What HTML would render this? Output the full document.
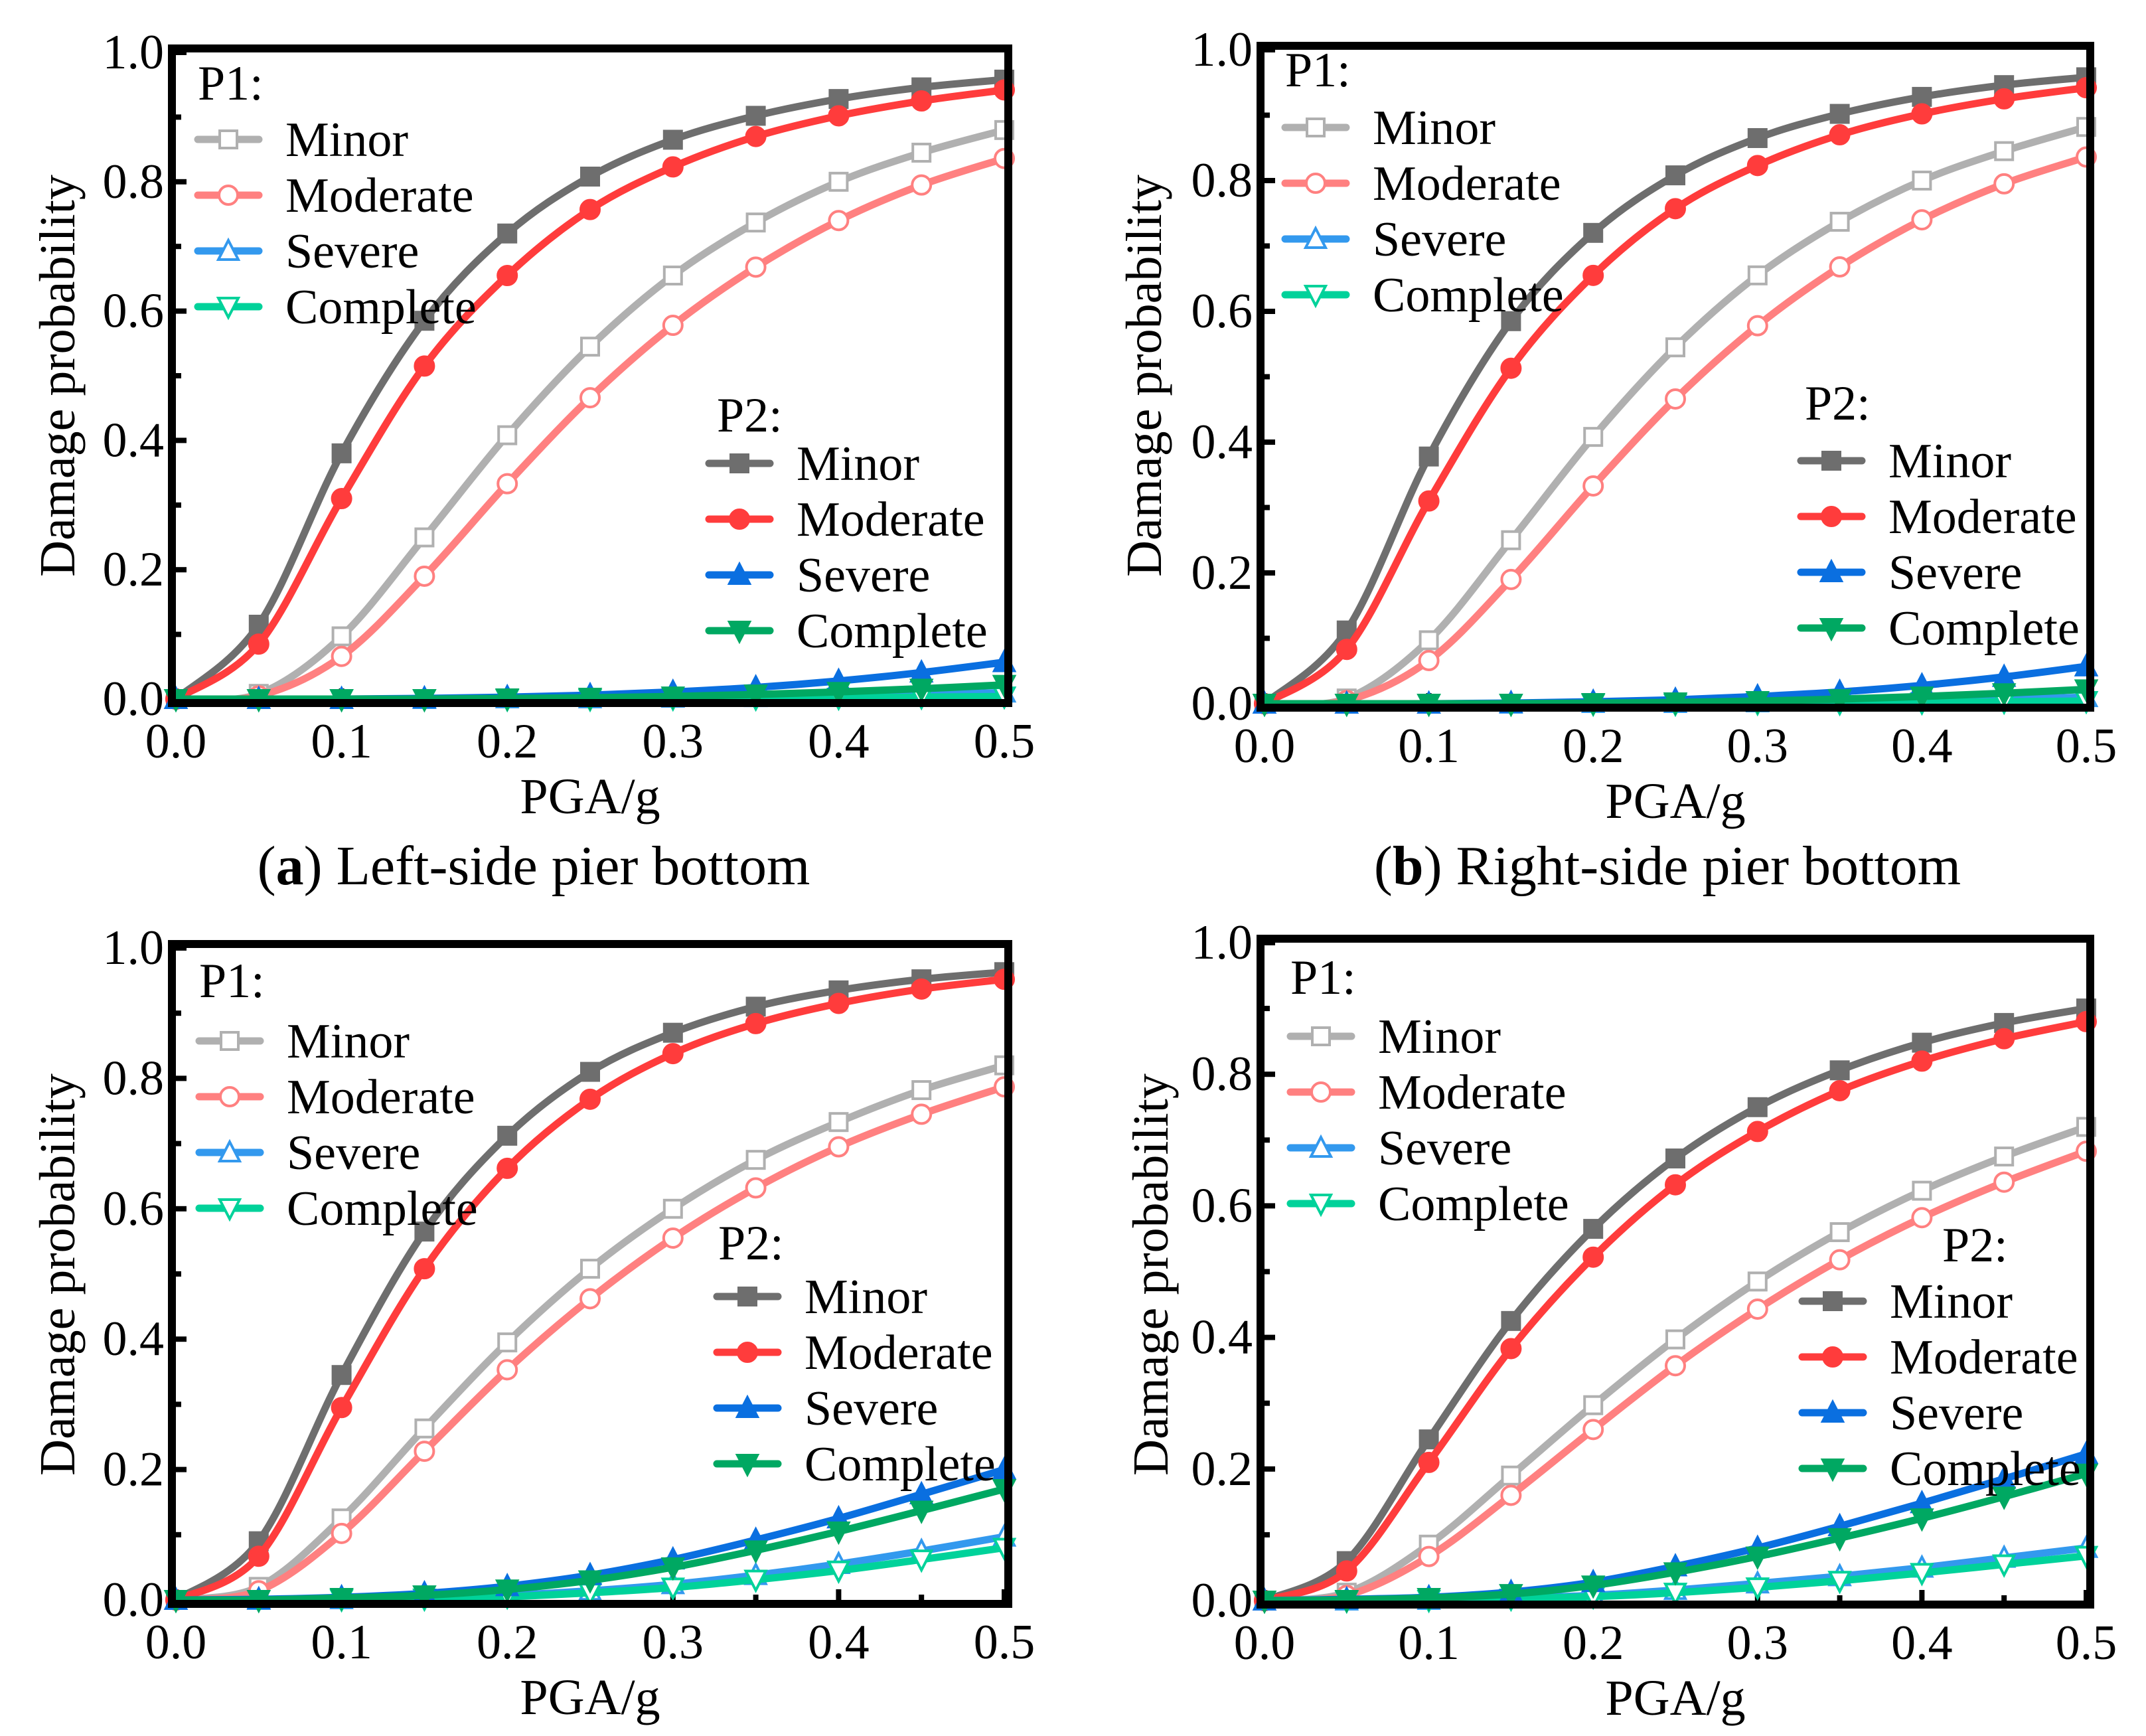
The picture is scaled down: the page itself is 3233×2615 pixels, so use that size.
<!DOCTYPE html>
<html><head><meta charset="utf-8">
<style>
html,body{margin:0;padding:0;background:#fff;}
svg{display:block;font-family:"Liberation Serif",serif;}
</style></head>
<body>
<svg id="fig" xmlns="http://www.w3.org/2000/svg" width="3233" height="2615" viewBox="0 0 3233 2615"></svg>
<script>
const xVals=[0,0.05,0.1,0.15,0.2,0.25,0.3,0.35,0.4,0.45,0.5];
const xTicks=["0.0","0.1","0.2","0.3","0.4","0.5"];
const yTicks=["0.0","0.2","0.4","0.6","0.8","1.0"];
const stateNames=["Minor","Moderate","Severe","Complete"];
const captions=["(a) Left-side pier bottom","(b) Right-side pier bottom"];
// panel a
const aP1Minor=[0,0.008,0.097,0.25,0.408,0.545,0.655,0.737,0.8,0.845,0.88];
const aP1Moderate=[0,0.005,0.066,0.19,0.333,0.466,0.578,0.668,0.74,0.795,0.836];
const aP1Severe=[0,0,0,0,0.001,0.001,0.002,0.003,0.005,0.007,0.01];
const aP1Complete=[0,0,0,0,0,0,0.001,0.001,0.002,0.003,0.004];
const aP2Minor=[0,0.115,0.38,0.585,0.72,0.808,0.865,0.902,0.928,0.946,0.958];
const aP2Moderate=[0,0.085,0.31,0.515,0.655,0.757,0.823,0.87,0.902,0.925,0.942];
const aP2Severe=[0,0,0,0.001,0.003,0.006,0.011,0.018,0.028,0.041,0.057];
const aP2Complete=[0,0,0,0,0.001,0.002,0.004,0.007,0.011,0.016,0.022];
// panel b
const bP1Minor=[0,0.008,0.097,0.25,0.408,0.545,0.655,0.737,0.8,0.845,0.882];
const bP1Moderate=[0,0.005,0.066,0.19,0.333,0.466,0.578,0.668,0.74,0.795,0.836];
const bP1Severe=[0,0,0,0,0.001,0.001,0.002,0.003,0.005,0.007,0.01];
const bP1Complete=[0,0,0,0,0,0,0.001,0.001,0.002,0.003,0.004];
const bP2Minor=[0,0.112,0.378,0.585,0.72,0.808,0.865,0.902,0.928,0.946,0.958];
const bP2Moderate=[0,0.083,0.31,0.513,0.655,0.757,0.823,0.87,0.902,0.925,0.942];
const bP2Severe=[0,0,0,0.001,0.003,0.006,0.011,0.018,0.028,0.041,0.057];
const bP2Complete=[0,0,0,0,0.001,0.002,0.004,0.007,0.011,0.016,0.022];
// panel c
const cP1Minor=[0,0.02,0.125,0.263,0.395,0.508,0.6,0.675,0.733,0.782,0.82];
const cP1Moderate=[0,0.014,0.102,0.228,0.353,0.462,0.555,0.632,0.695,0.745,0.787];
const cP1Severe=[0,0,0.001,0.003,0.007,0.014,0.024,0.038,0.055,0.075,0.097];
const cP1Complete=[0,0,0.001,0.002,0.005,0.011,0.019,0.031,0.045,0.062,0.08];
const cP2Minor=[0,0.09,0.345,0.565,0.712,0.81,0.87,0.91,0.935,0.952,0.963];
const cP2Moderate=[0,0.067,0.295,0.508,0.662,0.768,0.838,0.884,0.915,0.937,0.952];
const cP2Severe=[0,0.001,0.004,0.01,0.021,0.038,0.062,0.092,0.125,0.162,0.2];
const cP2Complete=[0,0,0.003,0.007,0.016,0.03,0.05,0.076,0.105,0.137,0.17];
// panel d
const dP1Minor=[0,0.012,0.085,0.19,0.297,0.397,0.485,0.56,0.623,0.675,0.72];
const dP1Moderate=[0,0.008,0.067,0.16,0.26,0.357,0.443,0.518,0.582,0.636,0.683];
const dP1Severe=[0,0,0.001,0.004,0.008,0.016,0.026,0.037,0.05,0.065,0.08];
const dP1Complete=[0,0,0.001,0.003,0.006,0.012,0.02,0.03,0.042,0.055,0.068];
const dP2Minor=[0,0.06,0.245,0.425,0.565,0.672,0.75,0.806,0.848,0.878,0.9];
const dP2Moderate=[0,0.045,0.21,0.383,0.522,0.632,0.713,0.775,0.82,0.854,0.88];
const dP2Severe=[0,0.002,0.005,0.013,0.028,0.052,0.08,0.113,0.148,0.185,0.223];
const dP2Complete=[0,0.001,0.004,0.01,0.023,0.043,0.067,0.095,0.125,0.158,0.193];

const NS="http://www.w3.org/2000/svg";
const svg=document.getElementById('fig');
function mk(tag,attrs,parent){const e=document.createElementNS(NS,tag);for(const k in attrs)e.setAttribute(k,attrs[k]);(parent||svg).appendChild(e);return e;}

const p1Colors=["#b0b0b0","#ff8080","#3399ee","#00d29a"];
const p2Colors=["#6e6e6e","#ff3c3c","#0a6fe0","#00a862"];
const markers=["square","circle","up","down"];

const panels=[
 {id:"a",L:265,T:79,R:1513,B:1053,p1:[aP1Minor,aP1Moderate,aP1Severe,aP1Complete],p2:[aP2Minor,aP2Moderate,aP2Severe,aP2Complete],
  p1Leg:{tx:298,x:298,y:150,first:210},p2Leg:{tx:1080,x:1068,y:650,first:698},yt:{x:87,y:566}},
 {id:"b",L:1905,T:75,R:3143,B:1060,p1:[bP1Minor,bP1Moderate,bP1Severe,bP1Complete],p2:[bP2Minor,bP2Moderate,bP2Severe,bP2Complete],
  p1Leg:{tx:1936,x:1936,y:130,first:192},p2Leg:{tx:2719,x:2713,y:632,first:694},yt:{x:1724,y:566}},
 {id:"c",L:265,T:1428,R:1513,B:2410,p1:[cP1Minor,cP1Moderate,cP1Severe,cP1Complete],p2:[cP2Minor,cP2Moderate,cP2Severe,cP2Complete],
  p1Leg:{tx:300,x:300,y:1502,first:1568},p2Leg:{tx:1082,x:1080,y:1897,first:1953},yt:{x:87,y:1920}},
 {id:"d",L:1905,T:1420,R:3143,B:2411,p1:[dP1Minor,dP1Moderate,dP1Severe,dP1Complete],p2:[dP2Minor,dP2Moderate,dP2Severe,dP2Complete],
  p1Leg:{tx:1944,x:1944,y:1497,first:1561},p2Leg:{tx:2926,x:2715,y:1900,first:1960},yt:{x:1734,y:1920}}
];

function drawMarker(g,type,cx,cy,color,filled){
  const s=13;let e;
  const fill=filled?color:"#fff";
  if(type==="square")e=mk('rect',{x:cx-s,y:cy-s,width:2*s,height:2*s,fill:fill,stroke:color,'stroke-width':4},g);
  else if(type==="circle")e=mk('circle',{cx:cx,cy:cy,r:s+1,fill:fill,stroke:color,'stroke-width':4},g);
  else if(type==="up")e=mk('polygon',{points:`${cx},${cy-s-3} ${cx+s+2},${cy+s} ${cx-s-2},${cy+s}`,fill:fill,stroke:color,'stroke-width':4},g);
  else e=mk('polygon',{points:`${cx},${cy+s+3} ${cx+s+2},${cy-s} ${cx-s-2},${cy-s}`,fill:fill,stroke:color,'stroke-width':4},g);
  return e;
}
function smoothPath(pts){
  let d=`M${pts[0][0]},${pts[0][1]}`;
  for(let i=0;i<pts.length-1;i++){
    const p0=pts[i-1]||pts[i],p1=pts[i],p2=pts[i+1],p3=pts[i+2]||p2;
    const c1=[p1[0]+(p2[0]-p0[0])/6,p1[1]+(p2[1]-p0[1])/6];
    const c2=[p2[0]-(p3[0]-p1[0])/6,p2[1]-(p3[1]-p1[1])/6];
    d+=` C${c1[0]},${c1[1]} ${c2[0]},${c2[1]} ${p2[0]},${p2[1]}`;
  }
  return d;
}

panels.forEach(p=>{
  const g=mk('g',{});
  
  
  const xs=v=>p.L+(v/0.5)*(p.R-p.L);
  const ys=v=>p.B-v*(p.B-p.T);
  for(let i=0;i<=10;i++){
    const v=i*0.1,y=ys(v),len=(i%2===0)?16:8;
    const t=mk('line',{x1:p.L,x2:p.L+len,y1:y,y2:y,stroke:"#000",'stroke-width':8},g);
    
    
  }
  for(let i=0;i<=10;i++){
    const v=i*0.05,x=xs(v),len=(i%2===0)?16:8;
    const t=mk('line',{x1:x,x2:x,y1:p.B,y2:p.B-len,stroke:"#000",'stroke-width':8},g);
    
    
  }
  [[p.p1,p1Colors,false,'p1'],[p.p2,p2Colors,true,'p2']].forEach(([set,cols,filled,tag])=>{
    set.forEach((arr,k)=>{
      const sg=mk('g',{},g);
      
      
      const pts=arr.map((v,i)=>[xs(xVals[i]),ys(v)]);
      const path=mk('path',{d:smoothPath(pts),fill:"none",stroke:cols[k],'stroke-width':11,'stroke-linejoin':'round'},sg);
      
      
      pts.forEach(pt=>{
        const m=drawMarker(sg,markers[k],pt[0],pt[1],cols[k],filled);
        
        
      });
    });
  });
  const fr=mk('rect',{x:p.L-6,y:p.T-6,width:p.R-p.L+12,height:p.B-p.T+12,fill:"none",stroke:"#000",'stroke-width':12},g);
  
  
  yTicks.forEach((lab,i)=>{
    const t=mk('text',{x:p.L-18,y:ys(i*0.2)+24,'font-size':74,'text-anchor':'end'},g);
    t.textContent=lab;
    
    
  });
  xTicks.forEach((lab,i)=>{
    const t=mk('text',{x:xs(i*0.1),y:p.B+88,'font-size':74,'text-anchor':'middle'},g);
    t.textContent=lab;
    
    
  });
  const xt=mk('text',{x:(p.L+p.R)/2,y:p.B+172,'font-size':76,'text-anchor':'middle'},g);
  xt.textContent="PGA/g";
  
  
  const yt=mk('text',{x:p.yt.x,y:p.yt.y,'font-size':76,'text-anchor':'middle',transform:`rotate(-90 ${p.yt.x} ${p.yt.y})`,'dominant-baseline':'central'},g);
  yt.textContent="Damage probability";
  
  
  [[p.p1Leg,p1Colors,false,"P1:"],[p.p2Leg,p2Colors,true,"P2:"]].forEach(([lg,cols,filled,title])=>{
    const lgG=mk('g',{},g);
    
    
    const tt=mk('text',{x:lg.tx,y:lg.y,'font-size':74},lgG);
    tt.textContent=title;
    
    
    stateNames.forEach((nm,k)=>{
      const cy=lg.first+k*84;
      const eg=mk('g',{},lgG);
      
      
      mk('line',{x1:lg.x,x2:lg.x+92,y1:cy,y2:cy,stroke:cols[k],'stroke-width':11,'stroke-linecap':'round'},eg);
      drawMarker(eg,markers[k],lg.x+46,cy,cols[k],filled);
      const tx=mk('text',{x:lg.x+132,y:cy+25,'font-size':74},eg);
      tx.textContent=nm;
    });
  });
});
captions.forEach((c,i)=>{
  const t=mk('text',{x:i===0?804:2512,y:1332,'font-size':84,'text-anchor':'middle'});
  const m=c.match(/^\((\w)\)(.*)$/);
  const s1=mk('tspan',{},t);s1.textContent="(";
  const s2=mk('tspan',{'font-weight':'bold'},t);s2.textContent=m[1];
  const s3=mk('tspan',{},t);s3.textContent=")"+m[2];
  
  
});
</script>
</body></html>
